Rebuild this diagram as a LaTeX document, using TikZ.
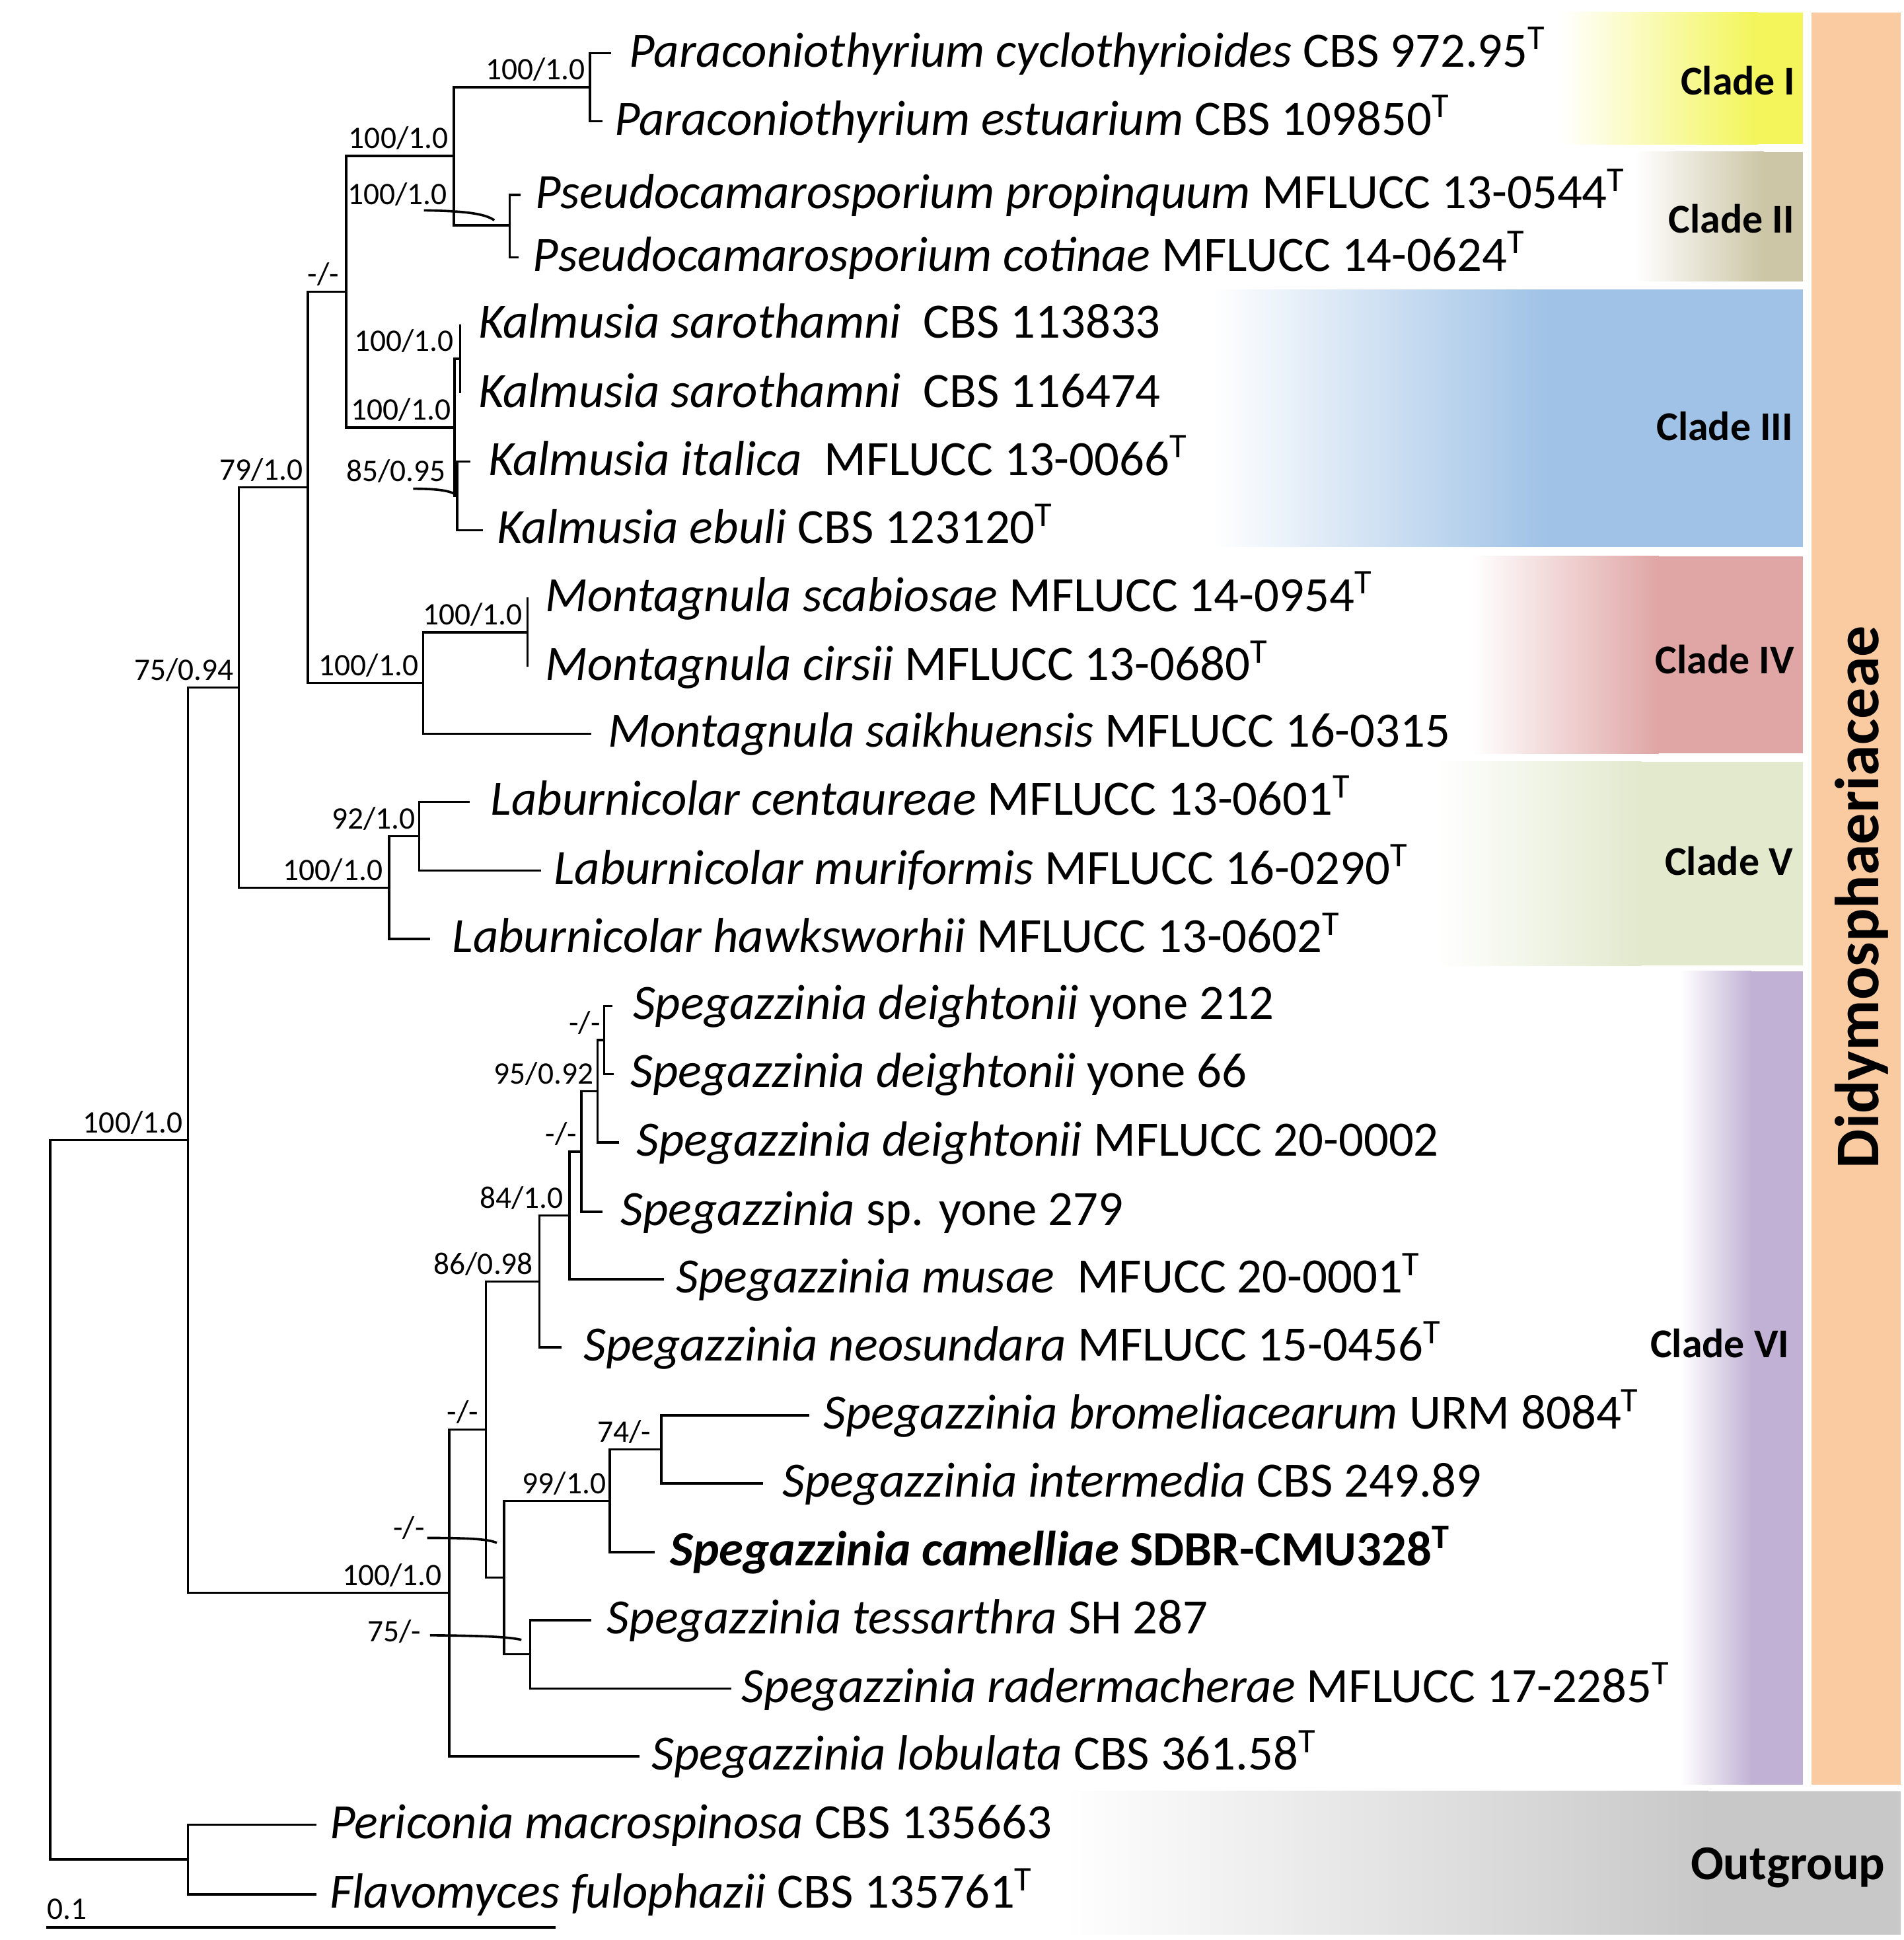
\documentclass[tikz,border=0pt]{standalone}
\usepackage{fontspec}
\setmainfont{Carlito}
\definecolor{cI}{RGB}{243,245,90}
\definecolor{cII}{RGB}{204,198,166}
\definecolor{cIII}{RGB}{159,194,230}
\definecolor{cIV}{RGB}{224,165,165}
\definecolor{cV}{RGB}{226,233,205}
\definecolor{cVI}{RGB}{193,178,213}
\definecolor{cD}{RGB}{250,202,160}
\definecolor{cO}{RGB}{200,200,200}
\begin{document}
\begin{tikzpicture}[x=0.01cm,y=-0.01cm,
  br/.style={line width=0.55pt},
  sup/.style={font=\fontsize{7.2pt}{8pt}\selectfont, anchor=base east, inner sep=0pt},
  tax/.style={font=\fontsize{11.35pt}{13pt}\selectfont, anchor=base west, inner sep=0pt},
  cladelab/.style={font=\fontsize{9.4pt}{11pt}\selectfont\bfseries, anchor=base east, inner sep=0pt}]
\useasboundingbox (0,0) rectangle (1539,1568);
% ---------- coloured clade boxes ----------
\shade[left color=white,right color=cI] (1262,10) rectangle (1421,116.5);
\fill[cI] (1420,10) rectangle (1457.3,116.5);
\shade[left color=white,right color=cII] (1322,122.6) rectangle (1426,227.3);
\fill[cII] (1425,122.6) rectangle (1457.3,227.3);
\shade[left color=white,right color=cIII] (980,234) rectangle (1251,442);
\fill[cIII] (1250,234) rectangle (1457.3,442);
\shade[left color=white,right color=cIV] (1189.6,449.5) rectangle (1341,609);
\fill[cIV] (1340,449.5) rectangle (1457.3,609);
\shade[left color=white,right color=cV] (1161.5,615.6) rectangle (1327,780.5);
\fill[cV] (1326,615.6) rectangle (1457.3,780.5);
\shade[left color=white,right color=cVI] (1358.6,785) rectangle (1416,1442.4);
\fill[cVI] (1415,785) rectangle (1457.3,1442.4);
\fill[cD] (1464.5,10) rectangle (1536.6,1442.4);
\shade[left color=white,right color=cO] (860,1447.6) rectangle (1381,1563.6);
\fill[cO] (1380,1447.6) rectangle (1536.6,1563.6);
% ---------- clade labels ----------
\node[cladelab] (cl1) at (1452,76.6) {Clade I};
\node[cladelab] (cl2) at (1451,188) {Clade II};
\node[cladelab] (cl3) at (1450,356) {Clade III};
\node[cladelab] (cl4) at (1451,544.6) {Clade IV};
\node[cladelab] (cl5) at (1450,707.6) {Clade V};
\node[cladelab] (cl6) at (1447,1097) {Clade VI};
\node[font=\fontsize{11.2pt}{13pt}\selectfont\bfseries, anchor=base east, inner sep=0pt] (clo) at (1524.5,1519) {Outgroup};
\node[font=\fontsize{14.3pt}{16pt}\selectfont\bfseries, rotate=90, inner sep=0pt] (cld) at (1505,725) {Didymosphaeriaceae};
% ---------- tips ----------
\coordinate (t1) at (494,43);
\coordinate (t2) at (487,98);
\coordinate (t3) at (421,157.5);
\coordinate (t4) at (419,208);
\coordinate (t5) at (372,262);
\coordinate (t6) at (372,318);
\coordinate (t7) at (380,373);
\coordinate (t8) at (390.5,428.5);
\coordinate (t9) at (426.4,483);
\coordinate (t10) at (426.4,539);
\coordinate (t11) at (478,593);
\coordinate (t12) at (379.5,648);
\coordinate (t13) at (437.5,703.6);
\coordinate (t14) at (347.6,759);
\coordinate (t15) at (495,813);
\coordinate (t16) at (496,868);
\coordinate (t17) at (500.4,923.5);
\coordinate (t18) at (487,979.5);
\coordinate (t19) at (536.7,1034);
\coordinate (t20) at (454,1089);
\coordinate (t21) at (654,1144);
\coordinate (t22) at (616.8,1199);
\coordinate (t23) at (529,1254.5);
\coordinate (t24) at (478.2,1309.4);
\coordinate (t25) at (591,1364.8);
\coordinate (t26) at (517,1419.5);
\coordinate (t27) at (256,1474.8);
\coordinate (t28) at (256,1531);
% ---------- internal nodes ----------
\coordinate (nPar) at (477,70.5);
\coordinate (nPse) at (412,182);
\coordinate (nIII) at (367,126);
\coordinate (nSar) at (372,290);
\coordinate (nIta) at (369.7,400.75);
\coordinate (nKal) at (367.5,345.4);
\coordinate (nTop) at (280,235.7);
\coordinate (nMp) at (426.4,511);
\coordinate (nMon) at (342,552);
\coordinate (n79) at (249,393.85);
\coordinate (nL92) at (338.8,675.8);
\coordinate (nLab) at (314.4,717.4);
\coordinate (n75) at (193,555.6);
\coordinate (nY) at (488.4,840.5);
\coordinate (n95) at (483,882);
\coordinate (nM2) at (470,930.75);
\coordinate (n84) at (460.5,982.4);
\coordinate (n86) at (436,1035.7);
\coordinate (n74) at (534.5,1171.5);
\coordinate (n99) at (492.8,1213);
\coordinate (n75m) at (428.6,1337.1);
\coordinate (nM4) at (407.4,1275);
\coordinate (nM3) at (392.8,1155.4);
\coordinate (nSp) at (363,1287.4);
\coordinate (n100) at (152,921.5);
\coordinate (nOut) at (152,1502.9);
\coordinate (root) at (40.7,1212.2);
% ---------- branches ----------
\foreach \p/\c in {nPar/t1,nPar/t2,nPse/t3,nPse/t4,nIII/nPar,nIII/nPse,
  nSar/t5,nSar/t6,nIta/t7,nIta/t8,nKal/nSar,nKal/nIta,nTop/nIII,nTop/nKal,
  nMp/t9,nMp/t10,nMon/nMp,nMon/t11,n79/nTop,n79/nMon,
  nL92/t12,nL92/t13,nLab/nL92,nLab/t14,n75/n79,n75/nLab,
  nY/t15,nY/t16,n95/nY,n95/t17,nM2/n95,nM2/t18,n84/nM2,n84/t19,n86/n84,n86/t20,
  n74/t21,n74/t22,n99/n74,n99/t23,n75m/t24,n75m/t25,nM4/n99,nM4/n75m,
  nM3/n86,nM3/nM4,nSp/nM3,nSp/t26,n100/n75,n100/nSp,
  nOut/t27,nOut/t28,root/n100,root/nOut}
  \draw[br] (\p) |- (\c);
% ---------- support values ----------
\node[sup] (s1) at (473.8,64.5) {100/1.0};
\node[sup] (s2) at (363,120) {100/1.0};
\node[sup] (s3) at (362,165.5) {100/1.0};
\node[sup] (s4) at (274.6,229.7) {-/-};
\node[sup] (s5) at (367.5,284) {100/1.0};
\node[sup] (s6) at (365,339.4) {100/1.0};
\node[sup] (s7) at (361,389) {85/0.95};
\node[sup] (s8) at (245.8,387.8) {79/1.0};
\node[sup] (s9) at (423,505) {100/1.0};
\node[sup] (s10) at (338.8,546) {100/1.0};
\node[sup] (s11) at (189.5,549.6) {75/0.94};
\node[sup] (s12) at (336.5,669.8) {92/1.0};
\node[sup] (s13) at (310,711.4) {100/1.0};
\node[sup] (s14) at (486,835) {-/-};
\node[sup] (s15) at (480.4,876) {95/0.92};
\node[sup] (s16) at (467,924.75) {-/-};
\node[sup] (s17) at (456,976.4) {84/1.0};
\node[sup] (s18) at (431.7,1029.7) {86/0.98};
\node[sup] (s19) at (387.4,1149.4) {-/-};
\node[sup] (s20) at (527,1165.5) {74/-};
\node[sup] (s21) at (490.6,1207) {99/1.0};
\node[sup] (s22) at (344,1243) {-/-};
\node[sup] (s23) at (357.8,1281.4) {100/1.0};
\node[sup] (s24) at (341,1327) {75/-};
\node[sup] (s25) at (148.3,915.5) {100/1.0};
% leaders
\coordinate (l3a) at (342.7,170);   \coordinate (l3b) at (399.6,178);
\coordinate (l7a) at (334,395);     \coordinate (l7b) at (370,401);
\coordinate (l22a) at (345.4,1243); \coordinate (l22b) at (401.6,1247);
\coordinate (l24a) at (347.6,1321.7); \coordinate (l24b) at (421.5,1325.4);
\draw[br] (l3a) .. controls (375,170.5) and (392,172.5) .. (l3b);
\draw[br] (l7a) .. controls (356,395) and (366,397) .. (l7b);
\draw[br] (l22a) .. controls (380,1243) and (395,1244) .. (l22b);
\draw[br] (l24a) .. controls (390,1322) and (412,1323) .. (l24b);
% ---------- scale bar ----------
\coordinate (sb1) at (37.6,1558);
\coordinate (sb2) at (449.4,1558);
\draw[line width=0.6pt] (sb1) -- (sb2);
\node[font=\fontsize{7.2pt}{8pt}\selectfont, anchor=base west, inner sep=0pt] (sbl) at (37.6,1551) {0.1};
% ---------- taxon labels ----------
\node[tax] (L1) at (508,54) {\textit{Paraconiothyrium cyclothyrioides} CBS 972.95\textsuperscript{T}};
\node[tax] (L2) at (496,109) {\textit{Paraconiothyrium estuarium} CBS 109850\textsuperscript{T}};
\node[tax] (L3) at (432,168.5) {\textit{Pseudocamarosporium propinquum} MFLUCC 13-0544\textsuperscript{T}};
\node[tax] (L4) at (430,219) {\textit{Pseudocamarosporium cotinae} MFLUCC 14-0624\textsuperscript{T}};
\node[tax] (L5) at (386,273) {\textit{Kalmusia sarothamni}\ \ CBS 113833};
\node[tax] (L6) at (386,329) {\textit{Kalmusia sarothamni}\ \ CBS 116474};
\node[tax] (L7) at (394,384) {\textit{Kalmusia italica}\ \ MFLUCC 13-0066\textsuperscript{T}};
\node[tax] (L8) at (401,439.5) {\textit{Kalmusia ebuli} CBS 123120\textsuperscript{T}};
\node[tax] (L9) at (440,494) {\textit{Montagnula scabiosae} MFLUCC 14-0954\textsuperscript{T}};
\node[tax] (L10) at (440,550) {\textit{Montagnula cirsii} MFLUCC 13-0680\textsuperscript{T}};
\node[tax] (L11) at (491,604) {\textit{Montagnula saikhuensis} MFLUCC 16-0315};
\node[tax] (L12) at (396,659) {\textit{Laburnicolar centaureae} MFLUCC 13-0601\textsuperscript{T}};
\node[tax] (L13) at (447,714.6) {\textit{Laburnicolar muriformis} MFLUCC 16-0290\textsuperscript{T}};
\node[tax] (L14) at (365,770) {\textit{Laburnicolar hawksworhii} MFLUCC 13-0602\textsuperscript{T}};
\node[tax] (L15) at (511,824) {\textit{Spegazzinia deightonii} yone 212};
\node[tax] (L16) at (509,879) {\textit{Spegazzinia deightonii} yone 66};
\node[tax] (L17) at (514,934.5) {\textit{Spegazzinia deightonii} MFLUCC 20-0002};
\node[tax] (L18) at (501,990.5) {\textit{Spegazzinia} sp. yone 279};
\node[tax] (L19) at (546,1045) {\textit{Spegazzinia musae}\ \ MFUCC 20-0001\textsuperscript{T}};
\node[tax] (L20) at (471,1100) {\textit{Spegazzinia neosundara} MFLUCC 15-0456\textsuperscript{T}};
\node[tax] (L21) at (665,1155) {\textit{Spegazzinia bromeliacearum} URM 8084\textsuperscript{T}};
\node[tax] (L22) at (632,1210) {\textit{Spegazzinia intermedia} CBS 249.89};
\node[tax] (L23) at (541,1265.5) {\textbf{\textit{Spegazzinia camelliae} SDBR-CMU328\textsuperscript{T}}};
\node[tax] (L24) at (490,1320.4) {\textit{Spegazzinia tessarthra} SH 287};
\node[tax] (L25) at (599,1375.8) {\textit{Spegazzinia radermacherae} MFLUCC 17-2285\textsuperscript{T}};
\node[tax] (L26) at (526,1430.5) {\textit{Spegazzinia lobulata} CBS 361.58\textsuperscript{T}};
\node[tax] (L27) at (266,1485.8) {\textit{Periconia macrospinosa} CBS 135663};
\node[tax] (L28) at (266,1542) {\textit{Flavomyces fulophazii} CBS 135761\textsuperscript{T}};
\end{tikzpicture}
\end{document}
